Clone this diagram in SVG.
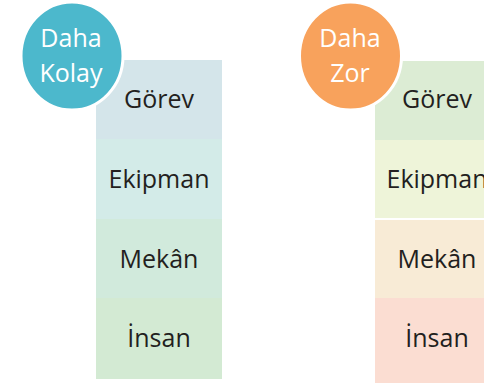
<svg xmlns="http://www.w3.org/2000/svg" width="484" height="383" viewBox="0 0 484 383">
<style>
.lbl{font-family:"Open Sans","Noto Sans","Liberation Sans",sans-serif;font-size:25px;fill:#231f20;text-anchor:middle}
.cl{font-family:"Open Sans","Noto Sans","Liberation Sans",sans-serif;font-size:25px;fill:#ffffff;text-anchor:middle}
.ring{stroke:#ffffff;stroke-width:3}
</style>
<rect width="484" height="383" fill="#ffffff"/>
<g id="col-left">
<g id="left-gorev"><rect x="96" y="60" width="126" height="79" fill="#d4e5ea"/><text class="lbl" x="159" y="108">Görev</text></g>
<g id="left-ekipman"><rect x="96" y="139" width="126" height="80" fill="#d3ebe8"/><text class="lbl" x="159" y="188">Ekipman</text></g>
<g id="left-mekan"><rect x="96" y="219" width="126" height="79" fill="#d1eadc"/><text class="lbl" x="159" y="268">Mekân</text></g>
<g id="left-insan"><rect x="96" y="298" width="126" height="81" fill="#d3ead3"/><text class="lbl" x="159" y="347">İnsan</text></g>
</g>
<g id="col-right">
<g id="right-gorev"><rect x="375" y="61" width="115" height="79" fill="#dcecd4"/><text class="lbl" x="437" y="108">Görev</text></g>
<g id="right-ekipman"><rect x="375" y="140" width="115" height="78" fill="#eef4d9"/><text class="lbl" x="437" y="188">Ekipman</text></g>
<g id="right-mekan"><rect x="375" y="220" width="115" height="78" fill="#f8ebd6"/><text class="lbl" x="437" y="268">Mekân</text></g>
<g id="right-insan"><rect x="375" y="298" width="115" height="85" fill="#fbddd2"/><text class="lbl" x="437" y="347">İnsan</text></g>
</g>
<g id="badge-kolay">
<ellipse class="ring" cx="72" cy="56" rx="51" ry="54" fill="#4cb8cc"/>
<text class="cl" x="71" y="47">Daha</text>
<text class="cl" x="71" y="82">Kolay</text>
</g>
<g id="badge-zor">
<ellipse class="ring" cx="350.5" cy="56" rx="51" ry="54" fill="#f8a25c"/>
<text class="cl" x="350" y="47">Daha</text>
<text class="cl" x="350" y="82">Zor</text>
</g>
<g id="connectors"/>
</svg>
